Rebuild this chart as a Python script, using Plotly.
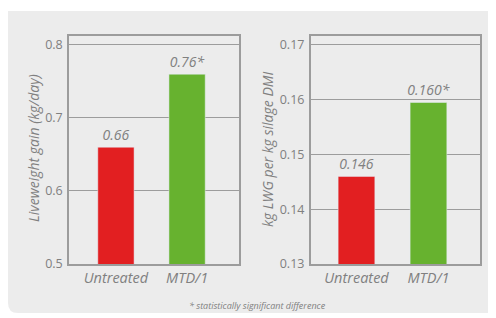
import plotly.graph_objects as go

categories = ["Untreated", "MTD/1"]
lwg_values = [0.66, 0.76]
lwg_labels = ["0.66", "0.76*"]
eff_values = [0.146, 0.1595]
eff_labels = ["0.146", "0.160*"]
lwg_ticks = [0.5, 0.6, 0.7, 0.8]
eff_ticks = [0.13, 0.14, 0.15, 0.16, 0.17]
bar_colors = ["#e21f21", "#67b22f"]

OFF = 8  # browser body margin
W, H = 496 - OFF, 318 - OFF
FONT = "Open Sans"
GRAY = "#808080"
LINE = "#9c9c9c"

def px(x):
    return (x - OFF) / W

def py(y):
    return 1 - (y - OFF) / H

fig = go.Figure()
fig.add_trace(go.Bar(x=[0, 1], y=lwg_values, marker_color=bar_colors, width=0.51,
                     text=lwg_labels, textposition="outside", cliponaxis=False,
                     constraintext="none",
                     textfont=dict(family=FONT, size=14, color=GRAY, style="italic"),
                     xaxis="x", yaxis="y", showlegend=False))
fig.add_trace(go.Bar(x=[0, 1], y=eff_values, marker_color=bar_colors, width=0.51,
                     text=eff_labels, textposition="outside", cliponaxis=False,
                     constraintext="none",
                     textfont=dict(family=FONT, size=14, color=GRAY, style="italic"),
                     xaxis="x2", yaxis="y2", showlegend=False))

common_x = dict(tickvals=[0, 1], ticktext=categories, showline=True, mirror=True,
                linecolor=LINE, linewidth=1.5, showgrid=False, ticks="",
                tickfont=dict(family=FONT, size=14.5, color=GRAY, style="italic"),
                automargin=False, fixedrange=True)
common_y = dict(showline=True, mirror=True, linecolor=LINE, linewidth=1.5,
                showgrid=True, gridcolor=LINE, gridwidth=1.2, ticks="",
                tickfont=dict(family=FONT, size=12.5, color=GRAY),
                ticklabelstandoff=2, automargin=False, zeroline=False)

fig.update_layout(
    width=W, height=H,
    margin=dict(l=0, r=0, t=0, b=0, pad=0),
    paper_bgcolor="white", plot_bgcolor="rgba(0,0,0,0)",
    xaxis=dict(domain=[px(69), px(239)], range=[-0.66, 1.73], anchor="y", **common_x),
    yaxis=dict(domain=[py(264), py(36)], range=[0.5, 0.8123], tickvals=lwg_ticks,
               ticktext=["0.5", "0.6", "0.7", "0.8"], anchor="x", **common_y),
    xaxis2=dict(domain=[px(310.7), px(480.3)], range=[-0.636, 1.72], anchor="y2", **common_x),
    yaxis2=dict(domain=[py(264), py(36)], range=[0.13, 0.17164], tickvals=eff_ticks,
                ticktext=["0.13", "0.14", "0.15", "0.16", "0.17"], anchor="x2", **common_y),
)

# grey panel with rounded bottom-left corner
x0, x1, y0, y1 = 0.0, 1.0, py(11), py(313)
rx, ry = 10 / W, 10 / H
fig.add_shape(type="path", xref="paper", yref="paper", layer="below",
              path=f"M {x0},{y0} L {x1},{y0} L {x1},{y1} L {x0+rx},{y1} Q {x0},{y1} {x0},{y1+ry} Z",
              fillcolor="#ececec", line=dict(width=0))

fig.add_annotation(x=px(33), y=py(148), xref="paper", yref="paper", showarrow=False,
                   xanchor="center", yanchor="middle",
                   text="Liveweight gain (kg/day)", textangle=-90,
                   font=dict(family=FONT, size=14, color=GRAY, style="italic"))
fig.add_annotation(x=px(268), y=py(150), xref="paper", yref="paper", showarrow=False,
                   xanchor="center", yanchor="middle",
                   text="kg LWG per kg silage DMI", textangle=-90,
                   font=dict(family=FONT, size=14, color=GRAY, style="italic"))
fig.add_annotation(x=px(258), y=py(305), xref="paper", yref="paper", showarrow=False,
                   xanchor="center", yanchor="middle",
                   text="* statistically significant difference",
                   font=dict(family=FONT, size=9, color=GRAY, style="italic"))

fig.write_html("out.html")
